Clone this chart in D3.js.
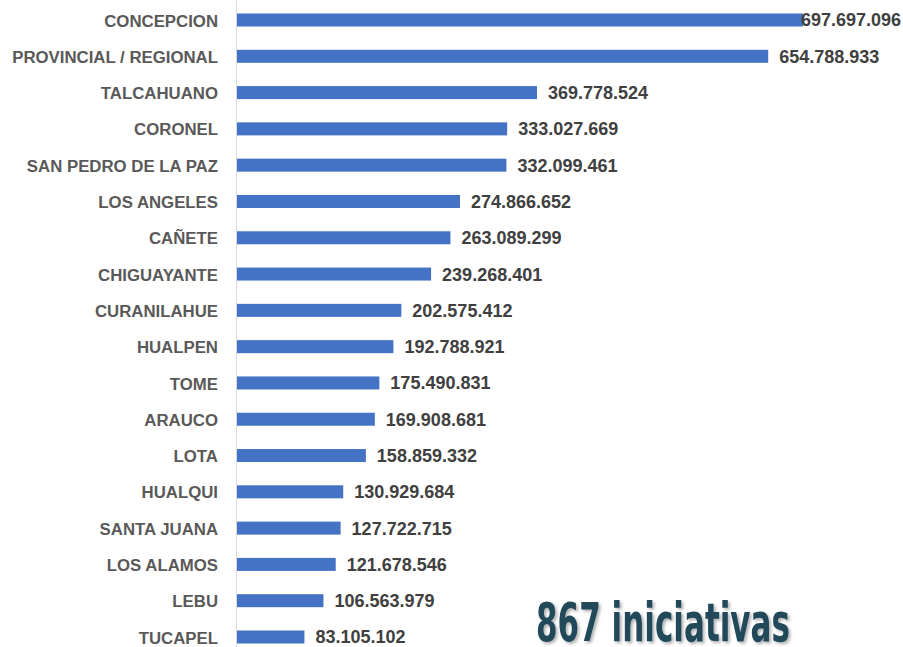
<!DOCTYPE html>
<html>
<head>
<meta charset="utf-8">
<script src="https://d3js.org/d3.v7.min.js"></script>
<style>
  body { margin: 0; background: #fff; }
  svg { display: block; }
</style>
</head>
<body>
<div id="chart"></div>
<script>
// Inversion por comuna
var comunas = ["CONCEPCION", "PROVINCIAL / REGIONAL", "TALCAHUANO", "CORONEL", "SAN PEDRO DE LA PAZ",
  "LOS ANGELES", "CAÑETE", "CHIGUAYANTE", "CURANILAHUE", "HUALPEN", "TOME", "ARAUCO", "LOTA",
  "HUALQUI", "SANTA JUANA", "LOS ALAMOS", "LEBU", "TUCAPEL"];
var montos = [697697096, 654788933, 369778524, 333027669, 332099461, 274866652, 263089299,
  239268401, 202575412, 192788921, 175490831, 169908681, 158859332, 130929684, 127722715,
  121678546, 106563979, 83105102];
var totalTexto = "867 iniciativas";

var svgWidth = 903;
var svgHeight = 647;
var barHeight = 13;

var svg = d3.select("#chart")
  .append("svg")
  .attr("width", svgWidth)
  .attr("height", svgHeight);

var data = comunas.map(function(c, i) {
  return { comuna: c, monto: montos[i] };
});

// scales
var xScale = d3.scaleLinear()
  .domain([0, montos[0]])
  .range([237, 803]);

var yScale = d3.scalePoint()
  .domain(comunas)
  .range([20, 637]);

// vertical axis line
svg.append("line")
  .attr("x1", 236.5)
  .attr("x2", 236.5)
  .attr("y1", 0)
  .attr("y2", svgHeight)
  .attr("stroke", "#d9d9d9")
  .attr("stroke-width", 1);

// category labels
var leftAxis = d3.axisLeft(yScale).tickSize(0).tickPadding(18);
var axisG = svg.append("g")
  .attr("transform", "translate(236, 0)")
  .call(leftAxis);
axisG.select(".domain").remove();
axisG.selectAll("text")
  .attr("fill", "#595959")
  .style("font-family", "'Liberation Sans', Arial, sans-serif")
  .style("font-weight", "bold")
  .style("font-size", "16.8px")
  .attr("dy", "0.36em");

// bars
svg.selectAll("rect.bar")
  .data(data)
  .enter()
  .append("rect")
  .attr("class", "bar")
  .attr("x", xScale(0))
  .attr("y", d => yScale(d.comuna) - barHeight / 2)
  .attr("width", d => xScale(d.monto) - xScale(0))
  .attr("height", barHeight)
  .attr("fill", "#4472c4");

// value labels
var fmt = function(v) {
  return d3.format(",")(v).replace(/,/g, ".");
};
svg.selectAll("text.valor")
  .data(data)
  .enter()
  .append("text")
  .attr("class", "valor")
  .attr("y", d => yScale(d.comuna))
  .attr("dy", "0.36em")
  .attr("fill", "#404040")
  .style("font-family", "'Liberation Sans', Arial, sans-serif")
  .style("font-weight", "bold")
  .style("font-size", "18px")
  .text(d => fmt(d.monto))
  .attr("x", function(d) {
    var w = this.getComputedTextLength();
    return Math.min(xScale(d.monto) + 11, svgWidth - 2 - w);
  });

// total text
var defs = svg.append("defs");
var filter = defs.append("filter").attr("id", "sombra")
  .attr("x", "-10%").attr("y", "-20%").attr("width", "130%").attr("height", "150%");
filter.append("feDropShadow")
  .attr("dx", 2).attr("dy", 2).attr("stdDeviation", 1.5)
  .attr("flood-color", "#000").attr("flood-opacity", 0.3);

svg.append("text")
  .attr("x", 536)
  .attr("y", 641)
  .attr("fill", "#24495a")
  .attr("textLength", 254)
  .attr("lengthAdjust", "spacingAndGlyphs")
  .attr("filter", "url(#sombra)")
  .style("font-family", "'Liberation Sans Narrow', 'DejaVu Sans Condensed', sans-serif")
  .style("font-weight", "bold")
  .style("font-size", "53px")
  .text(totalTexto);
</script>
</body>
</html>
